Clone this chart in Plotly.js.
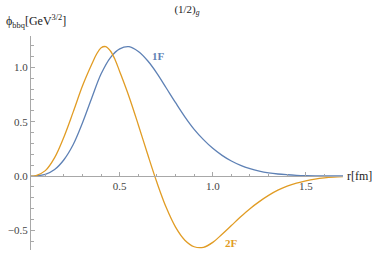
<!DOCTYPE html>
<html>
<head>
<meta charset="utf-8">
<script src="https://cdn.plot.ly/plotly-3.0.1.min.js"></script>
<style>html,body{margin:0;padding:0;background:#fff;}#chart{width:374px;height:254px;}</style>
</head>
<body>
<div id="chart"></div>
<script>
const r1 = [0.023,0.05,0.10,0.15,0.20,0.25,0.30,0.35,0.40,0.45,0.50,0.55,0.60,0.65,0.70,0.75,0.80,0.85,0.90,0.95,1.00,1.05,1.10,1.15,1.20,1.25,1.30,1.35,1.40,1.45,1.50,1.55,1.60,1.65,1.70];
const f1 = [0.0,0.002,0.016,0.06,0.15,0.29,0.49,0.72,0.94,1.09,1.17,1.19,1.145,1.06,0.945,0.81,0.675,0.545,0.43,0.335,0.255,0.19,0.138,0.098,0.068,0.046,0.03,0.019,0.012,0.007,0.004,0.0025,0.0015,0.001,0.0005];
const r2 = [0.023,0.05,0.10,0.15,0.20,0.25,0.30,0.35,0.375,0.40,0.425,0.45,0.475,0.50,0.55,0.60,0.65,0.70,0.75,0.80,0.85,0.90,0.95,1.00,1.05,1.10,1.15,1.20,1.25,1.30,1.35,1.40,1.45,1.50,1.55,1.60,1.65,1.70];
const f2 = [0.0,0.005,0.05,0.17,0.36,0.59,0.83,1.03,1.12,1.18,1.19,1.15,1.07,0.96,0.73,0.47,0.20,-0.06,-0.29,-0.47,-0.59,-0.65,-0.655,-0.61,-0.535,-0.455,-0.375,-0.30,-0.235,-0.178,-0.13,-0.093,-0.065,-0.044,-0.028,-0.017,-0.010,-0.006];
const seriesNames = ["1F","2F"];
const colors = ["#5E81B5","#E19C24"];
const labelPos = [[0.706,1.104],[1.098,-0.616]];

const serif = "Liberation Serif";
const axisCol = "#a8a8a8";
const traces = [
  {x:r1, y:f1, mode:"lines", line:{color:colors[0], width:1.3, shape:"spline", smoothing:1}, name:seriesNames[0], hoverinfo:"skip"},
  {x:r2, y:f2, mode:"lines", line:{color:colors[1], width:1.3, shape:"spline", smoothing:1}, name:seriesNames[1], hoverinfo:"skip"}
];
const yr = [-0.68, 1.288];
const layout = {
  width:374, height:254,
  margin:{l:31, r:31, t:36, b:4},
  paper_bgcolor:"#fff", plot_bgcolor:"#fff",
  showlegend:false,
  font:{family:serif, size:11, color:"#444"},
  xaxis:{range:[0.023,1.70], anchor:"free", position:(0-yr[0])/(yr[1]-yr[0]), showline:true, linecolor:axisCol, linewidth:1,
         ticks:"inside", ticklen:4, tickcolor:axisCol, tickwidth:1, tickmode:"linear", tick0:0, dtick:0.5, tickformat:".1f",
         minor:{ticks:"inside", ticklen:2.5, tickcolor:axisCol, dtick:0.1, tick0:0, showgrid:false},
         showgrid:false, zeroline:false, tickfont:{family:serif, size:11, color:"#444"}},
  yaxis:{range:yr, showline:true, linecolor:axisCol, linewidth:1,
         ticks:"inside", ticklen:4, tickcolor:axisCol, tickwidth:1, tickmode:"linear", tick0:0, dtick:0.5, tickformat:".1f",
         minor:{ticks:"inside", ticklen:2.5, tickcolor:axisCol, dtick:0.1, tick0:0, showgrid:false},
         showgrid:false, zeroline:false, tickfont:{family:serif, size:11, color:"#444"}},
  title:{text:"(1/2)<sub><i>g</i></sub>", font:{family:serif, size:11, color:"#222"}, x:0.5, xref:"paper", xanchor:"center", y:0.965, yanchor:"middle"},
  annotations:[
    {text:"ϕ<sub>bbq</sub>[GeV<sup>3/2</sup>]", xref:"paper", yref:"paper", x:-0.088, y:1.02, xanchor:"left", yanchor:"bottom", showarrow:false, font:{family:serif, size:12, color:"#222"}},
    {text:"r[fm]", xref:"paper", yref:"y", x:1.005, y:0, xanchor:"left", yanchor:"middle", showarrow:false, font:{family:serif, size:12, color:"#222"}},
    {text:"<b>"+seriesNames[0]+"</b>", xref:"x", yref:"y", x:labelPos[0][0], y:labelPos[0][1], showarrow:false, font:{family:serif, size:11, color:colors[0]}},
    {text:"<b>"+seriesNames[1]+"</b>", xref:"x", yref:"y", x:labelPos[1][0], y:labelPos[1][1], showarrow:false, font:{family:serif, size:11, color:colors[1]}}
  ]
};
Plotly.newPlot("chart", traces, layout, {staticPlot:true, displayModeBar:false});
</script>
</body>
</html>
